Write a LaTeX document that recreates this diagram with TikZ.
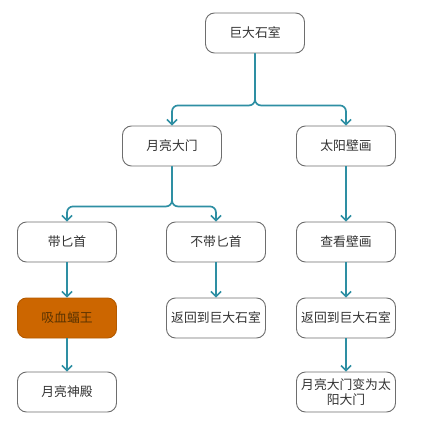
\documentclass[tikz,border=0pt]{standalone}
\usepackage{fontspec}
\newfontfamily\cjk{Noto Sans CJK SC}
\usetikzlibrary{arrows.meta}
\definecolor{conncol}{HTML}{2E8FA3}
\definecolor{boxline}{HTML}{6E6E6E}
\definecolor{txtcol}{HTML}{333333}
\definecolor{orangefill}{HTML}{CC6600}
\definecolor{orangeline}{HTML}{B45A00}
\definecolor{orangetxt}{HTML}{5A3300}
\tikzset{
  box/.style={draw=boxline, line width=0.9pt, rounded corners=9pt, minimum width=99pt, minimum height=40pt, inner sep=1pt, align=center, text width=96pt, font=\cjk\fontsize{12.8}{15}\selectfont, text=txtcol, fill=white},
  hot/.style={box, fill=orangefill, draw=orangeline, text=orangetxt},
  conn/.style={draw=conncol, line width=1.7pt, rounded corners=6pt, -{Straight Barb[length=5pt,width=10pt,line width=1.5pt]}}
}
\begin{document}
\begin{tikzpicture}[x=1pt,y=-1pt]
\useasboundingbox (0,0) rectangle (427,430);
\node[box] (top) at (255,33) {巨大石室};
\node[box] (moon) at (172,146) {月亮大门};
\node[box] (sun) at (346,146) {太阳壁画};
\node[box] (dag) at (67,242) {带匕首};
\node[box] (nodag) at (216,242) {不带匕首};
\node[box] (look) at (346,242) {查看壁画};
\node[hot] (bat) at (67,318) {吸血蝠王};
\node[box] (back1) at (216,318) {返回到巨大石室};
\node[box] (back2) at (346,318) {返回到巨大石室};
\node[box] (temple) at (67,392) {月亮神殿};
\node[box] (change) at (346,392) {月亮大门变为太\\阳大门};
\draw[conn] (top.south) -- ++(0,52) -| (moon.north);
\draw[conn] (top.south) -- ++(0,52) -| (sun.north);
\draw[conn] (moon.south) -- ++(0,40) -| (dag.north);
\draw[conn] (moon.south) -- ++(0,40) -| (nodag.north);
\draw[conn] (sun.south) -- (look.north);
\draw[conn] (dag.south) -- (bat.north);
\draw[conn] (nodag.south) -- (back1.north);
\draw[conn] (look.south) -- (back2.north);
\draw[conn] (bat.south) -- (temple.north);
\draw[conn] (back2.south) -- (change.north);
\end{tikzpicture}
\end{document}
